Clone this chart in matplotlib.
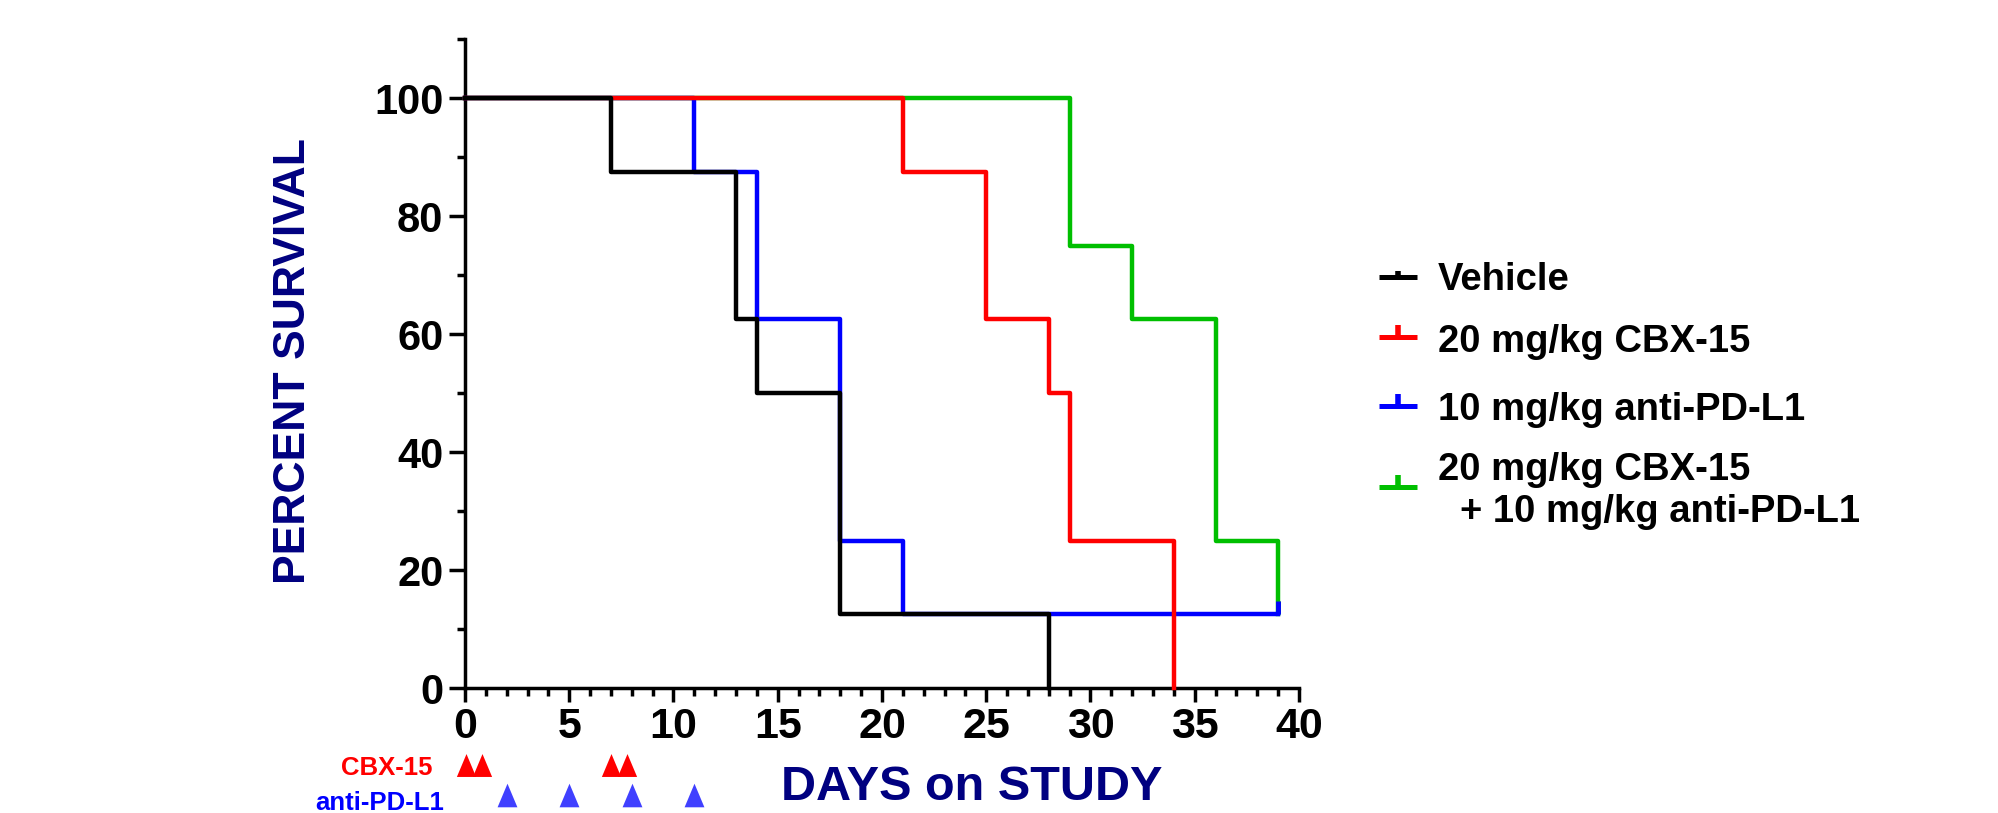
import numpy as np
import matplotlib.pyplot as plt
from matplotlib.path import Path
from matplotlib.lines import Line2D
from matplotlib.ticker import MultipleLocator

plt.rcParams['font.family'] = ['Liberation Sans', 'DejaVu Sans']
plt.rcParams['font.weight'] = 'bold'

# Kaplan-Meier steps (day, percent survival)
vehicle_days = [0, 7, 13, 14, 18, 28]
vehicle_surv = [100, 87.5, 62.5, 50, 12.5, 0]
cbx_days = [0, 21, 25, 28, 29, 34]
cbx_surv = [100, 87.5, 62.5, 50, 25, 0]
pdl1_days = [0, 11, 14, 18, 21, 39]
pdl1_surv = [100, 87.5, 62.5, 25, 12.5, 12.5]
combo_days = [0, 29, 32, 36, 39]
combo_surv = [100, 75, 62.5, 25, 12.5]

# censored animals
pdl1_cens_days = [39]
pdl1_cens_surv = [12.5]
combo_cens_days = [39]
combo_cens_surv = [12.5]

# dosing days (triangles under the axis)
cbx_dose_days = [0.05, 0.8, 7, 7.75]
pdl1_dose_days = [2, 5, 8, 11]

labels = ["Vehicle", "20 mg/kg CBX-15", "10 mg/kg anti-PD-L1",
          ["20 mg/kg CBX-15", "+ 10 mg/kg anti-PD-L1"]]
colors = ["black", "#ff0000", "#0000ff", "#00bf00"]
navy = "#000080"

# censor tick (goes up from the point) and dosing triangle
tick = Path([(0, 0), (0, 1)], [Path.MOVETO, Path.LINETO])
tri = Path([(-0.42, -0.5), (0.42, -0.5), (0, 0.5), (-0.42, -0.5)],
           [Path.MOVETO, Path.LINETO, Path.LINETO, Path.CLOSEPOLY])

W, H = 1999, 813
fig = plt.figure(figsize=(W / 100, H / 100), dpi=100)
ax = fig.add_axes([465 / W, 1 - 688 / H, (1299 - 465) / W, 649 / H])

lw = 3.2
ax.step(combo_days, combo_surv, where='post', color=colors[3], lw=lw, clip_on=False, zorder=2)
ax.plot(combo_cens_days, combo_cens_surv, ls='none', marker=tick, ms=19, mew=3.5,
        color=colors[3], clip_on=False, zorder=2)
ax.step(pdl1_days, pdl1_surv, where='post', color=colors[2], lw=lw, clip_on=False, zorder=3)
ax.plot(pdl1_cens_days, pdl1_cens_surv, ls='none', marker=tick, ms=19, mew=3.5,
        color=colors[2], clip_on=False, zorder=3)
ax.step(cbx_days, cbx_surv, where='post', color=colors[1], lw=lw, clip_on=False, zorder=4)
ax.step(vehicle_days, vehicle_surv, where='post', color=colors[0], lw=lw, clip_on=False, zorder=5)

# axes styling
ax.set_xlim(0, 40)
ax.set_ylim(0, 110)
ax.spines['top'].set_visible(False)
ax.spines['right'].set_visible(False)
ax.spines['left'].set_linewidth(2.5)
ax.spines['bottom'].set_linewidth(2.5)
ax.xaxis.set_major_locator(MultipleLocator(5))
ax.xaxis.set_minor_locator(MultipleLocator(1))
ax.set_yticks([0, 20, 40, 60, 80, 100])
ax.set_yticks([10, 30, 50, 70, 90, 110], minor=True)
ax.tick_params(axis='y', which='major', length=11.5, width=2.5, pad=4, labelsize=30)
ax.tick_params(axis='y', which='minor', length=5.8, width=2.5)
ax.tick_params(axis='x', which='major', length=10, width=2.5, pad=4, labelsize=31)
ax.tick_params(axis='x', which='minor', length=5.8, width=2.5)

# dosing triangles
ax.plot(cbx_dose_days, [-0.118] * len(cbx_dose_days), transform=ax.get_xaxis_transform(),
        ls='none', marker=tri, ms=16.5, color='#ff0000', mec='none', clip_on=False)
ax.plot(pdl1_dose_days, [-0.165] * len(pdl1_dose_days), transform=ax.get_xaxis_transform(),
        ls='none', marker=tri, ms=17, color='#4040ff', mec='none', clip_on=False)

fig.text(433 / W, 1 - 775 / H, "CBX-15", color='#ff0000', fontsize=18.5,
         ha='right', va='baseline')
fig.text(444 / W, 1 - 810 / H, "anti-PD-L1", color='#0000ff', fontsize=18.5,
         ha='right', va='baseline')

# axis titles
fig.text(294 / W, 1 - 361 / H, "PERCENT SURVIVAL", rotation=90, color=navy,
         fontsize=32, ha='center', va='center')
fig.text(972 / W, 1 - 800 / H, "DAYS on STUDY", color=navy, fontsize=35,
         ha='center', va='baseline')

# legend drawn by hand
handle_y = [277.5, 336.7, 405.8, 486.7]
tick_len = [7, 12, 12, 12]
text_base = [290, 351.7, 420, [480, 522]]
for lab, col, hy, tl, tb in zip(labels, colors, handle_y, tick_len, text_base):
    yf = 1 - hy / H
    fig.add_artist(Line2D([1379 / W, 1417 / W], [yf, yf], color=col, lw=3.6,
                          transform=fig.transFigure, solid_capstyle='butt'))
    fig.add_artist(Line2D([1398 / W, 1398 / W], [yf, 1 - (hy - tl) / H], color=col,
                          lw=4, transform=fig.transFigure, solid_capstyle='butt'))
    if isinstance(lab, list):
        fig.text(1438 / W, 1 - tb[0] / H, lab[0], fontsize=27.5, ha='left', va='baseline')
        fig.text(1460 / W, 1 - tb[1] / H, lab[1], fontsize=27.5, ha='left', va='baseline')
    else:
        fig.text(1438 / W, 1 - tb / H, lab, fontsize=27.5, ha='left', va='baseline')

fig.savefig('out.png', dpi=100)
